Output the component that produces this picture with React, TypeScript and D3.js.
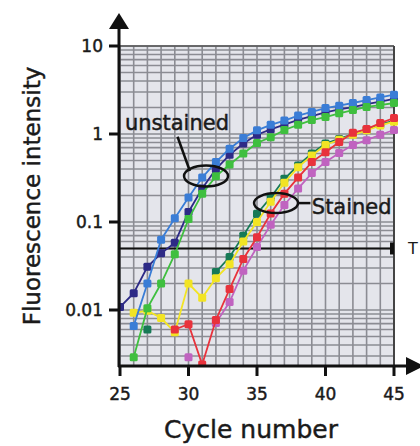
import React from "react";
import * as d3 from "d3";

const cycles = d3.range(25, 46);

// values per cycle 25..45 (null = not shown)
const navy = [0.0108, 0.0155, 0.031, 0.044, 0.058, 0.13, 0.24, 0.4, 0.58, 0.78, 0.98, 1.13, 1.28, 1.45, 1.6, 1.76, 1.9, 2.02, 2.18, 2.33, 2.5];
const blue = [null, 0.0066, 0.02, 0.063, 0.11, 0.19, 0.32, 0.48, 0.68, 0.9, 1.1, 1.27, 1.42, 1.62, 1.78, 1.97, 2.1, 2.25, 2.43, 2.6, 2.8];
const green = [null, 0.0029, 0.0105, 0.02, 0.043, 0.108, 0.21, 0.33, 0.45, 0.6, 0.79, 0.92, 1.11, 1.27, 1.44, 1.56, 1.72, 1.87, 2.03, 2.13, 2.25];
const teal = [null, null, 0.006, null, null, null, null, 0.027, 0.04, 0.07, 0.124, 0.19, 0.31, 0.44, 0.6, 0.78, 0.88, 1.0, 1.12, 1.28, 1.42];
const yellow = [null, 0.0093, 0.0098, 0.0081, 0.0056, 0.02, 0.0138, 0.023, 0.033, 0.06, 0.1, 0.17, 0.28, 0.42, 0.57, 0.75, 0.86, 0.98, 1.1, 1.25, 1.38];
const magenta = [null, null, null, null, null, 0.0029, null, 0.0071, 0.0123, 0.028, 0.052, 0.093, 0.156, 0.24, 0.36, 0.48, 0.61, 0.75, 0.85, 0.98, 1.11];
const red = [null, null, null, null, 0.006, 0.0069, 0.0024, 0.0077, 0.0173, 0.038, 0.067, 0.125, 0.21, 0.32, 0.48, 0.62, 0.81, 1.03, 1.14, 1.33, 1.52];

const seriesList = [
  { name: "navy", values: navy, color: "#2d2a86" },
  { name: "teal", values: teal, color: "#177a56" },
  { name: "yellow", values: yellow, color: "#f2e424" },
  { name: "magenta", values: magenta, color: "#c063c0" },
  { name: "red", values: red, color: "#e8323c" },
  { name: "blue", values: blue, color: "#3a7dd6" },
  { name: "green", values: green, color: "#3fbf3f" },
];

const yTicks = [10, 1, 0.1, 0.01];
const yTickLabels = ["10", "1", "0.1", "0.01"];
const xTicks = [25, 30, 35, 40, 45];
const threshold = 0.05;

const W = 420;
const H = 446;
const FONT = "'DejaVu Sans', sans-serif";
const TXT = "#1a1a1a";

export default function App() {
  const x = d3.scaleLinear().domain([25, 45]).range([120, 394]);
  const y = d3.scaleLog().domain([0.00231, 10]).range([366, 46]);
  const [x0, x1] = x.range();
  const [yb, yt] = y.range();

  const minorY: number[] = [];
  for (let e = -3; e <= 0; e++) {
    for (let m = 1; m <= 9; m++) {
      const v = m * Math.pow(10, e);
      if (v >= 0.00231 && v <= 10) minorY.push(v);
    }
  }
  minorY.push(10);

  const line = d3
    .line<number | null>()
    .defined((d) => d !== null)
    .x((_, i) => x(cycles[i]))
    .y((d) => y(d as number));

  const ms = 8;
  const heavy = { stroke: TXT, strokeWidth: 0.45 };

  return (
    <svg width={W} height={H} style={{ position: "absolute", left: 0, top: 0, background: "#fff" }}>
      <defs>
        <clipPath id="plot">
          <rect x={x0} y={yt - 2} width={x1 - x0 + 4} height={yb - yt + 2} />
        </clipPath>
      </defs>
      {/* plot background */}
      <rect x={x0} y={yt} width={x1 - x0} height={yb - yt} fill="#e4e5eb" />
      {/* grid */}
      {minorY.map((v, i) => (
        <line key={"h" + i} x1={x0} x2={x1} y1={y(v)} y2={y(v)} stroke="#8b8c93" strokeWidth={1.6} />
      ))}
      {cycles.map((c) => (
        <line key={"v" + c} x1={x(c)} x2={x(c)} y1={yt} y2={yb} stroke="#8b8c93" strokeWidth={1.6} />
      ))}
      {/* frame */}
      <line x1={x0} x2={x1} y1={yt} y2={yt} stroke="#555" strokeWidth={1.5} />
      <line x1={x1} x2={x1} y1={yt} y2={yb} stroke="#444" strokeWidth={2} />

      {/* threshold */}
      <line x1={x0} x2={x1} y1={y(threshold)} y2={y(threshold)} stroke="#111" strokeWidth={2} />
      <rect x={x1 - 4} y={y(threshold) - 6} width={4} height={12} fill="#111" />
      <text x={408} y={y(threshold) + 6} fontFamily={FONT} fontSize={16} fill={TXT}>T</text>

      {/* series */}
      <g clipPath="url(#plot)">
        {seriesList.map((s) => (
          <g key={s.name}>
            <path d={line(s.values) || ""} fill="none" stroke={s.color} strokeWidth={1.8} />
            {s.values.map((v, i) =>
              v === null ? null : (
                <rect
                  key={i}
                  x={x(cycles[i]) - ms / 2}
                  y={y(v) - ms / 2}
                  width={ms}
                  height={ms}
                  rx={1.5}
                  fill={s.color}
                />
              )
            )}
          </g>
        ))}
      </g>

      {/* annotations */}
      <text x={x(25.36)} y={y(1.11)} fontFamily={FONT} fontSize={21} fill={TXT} {...heavy}>unstained</text>
      <line x1={x(29.2)} y1={y(0.93)} x2={x(30.1)} y2={y(0.38)} stroke="#111" strokeWidth={2.5} />
      <ellipse cx={x(31.28)} cy={y(0.333)} rx={22} ry={10.5} fill="none" stroke="#111" strokeWidth={2.5} />
      <ellipse cx={x(36.39)} cy={y(0.164)} rx={22} ry={10} fill="none" stroke="#111" strokeWidth={2.5} />
      <line x1={x(38.0)} y1={y(0.164)} x2={x(38.9)} y2={y(0.164)} stroke="#111" strokeWidth={2.5} />
      <text x={x(39.0)} y={y(0.123)} fontFamily={FONT} fontSize={21} fill={TXT} {...heavy}>Stained</text>

      {/* y axis */}
      <line x1={x0 - 1} x2={x0 - 1} y1={yb + 1} y2={28} stroke="#111" strokeWidth={3} />
      <path d={`M${x0 - 1},13 L${x0 - 11},29 L${x0 + 9},29 Z`} fill="#111" />
      {yTicks.map((t, i) => (
        <g key={"yt" + t}>
          <line x1={x0 - 11} x2={x0} y1={y(t)} y2={y(t)} stroke="#111" strokeWidth={3} />
          <text x={x0 - 17} y={y(t) + 6} textAnchor="end" fontFamily={FONT} fontSize={17} fill={TXT} {...heavy}>
            {yTickLabels[i]}
          </text>
        </g>
      ))}

      {/* x axis */}
      <line x1={x0 - 2} x2={408} y1={yb} y2={yb} stroke="#111" strokeWidth={3} />
      <path d={`M424,${yb} L406,${yb - 9} L406,${yb + 9} Z`} fill="#111" />
      {xTicks.map((t) => (
        <g key={"xt" + t}>
          <line x1={x(t)} x2={x(t)} y1={yb} y2={yb + 10} stroke="#111" strokeWidth={3} />
          <text x={x(t)} y={400} textAnchor="middle" fontFamily={FONT} fontSize={17} fill={TXT} {...heavy}>
            {t}
          </text>
        </g>
      ))}

      {/* axis titles */}
      <text x={251} y={438} textAnchor="middle" fontFamily={FONT} fontSize={25} fill={TXT} {...heavy}>
        Cycle number
      </text>
      <text
        transform={`translate(40,196) rotate(-90)`}
        textAnchor="middle"
        fontFamily={FONT}
        fontSize={23}
        fill={TXT}
        {...heavy}
      >
        Fluorescence intensity
      </text>
    </svg>
  );
}
